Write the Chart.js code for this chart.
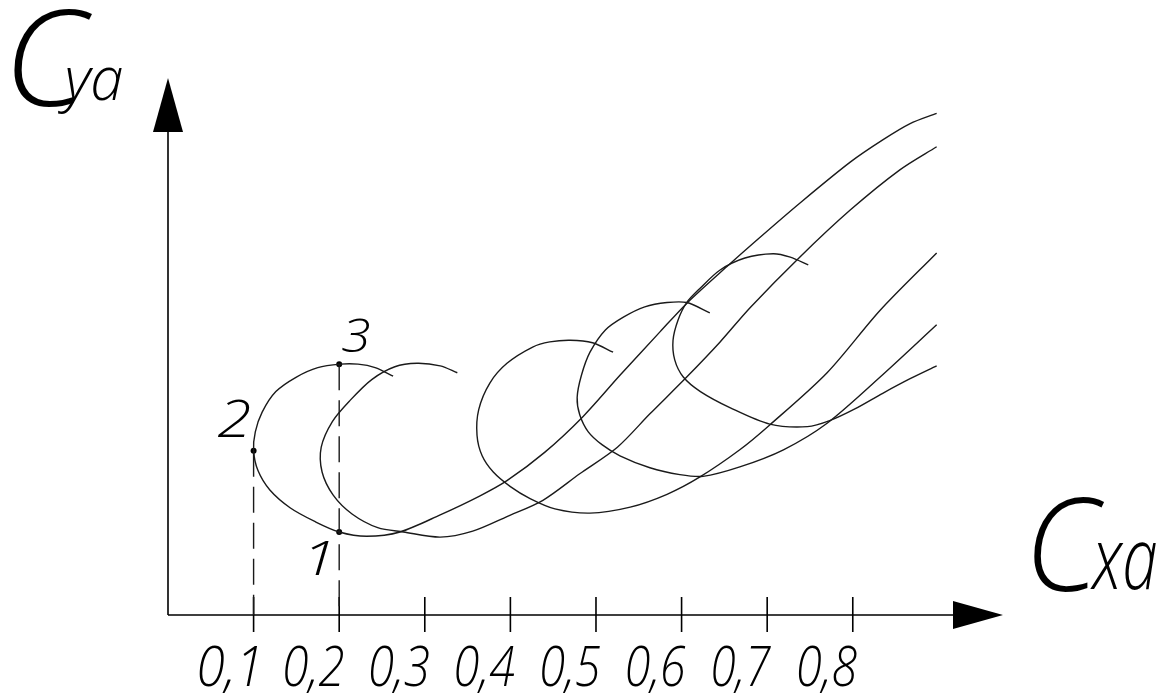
<!DOCTYPE html>
<html>
<head>
<meta charset="utf-8">
<script src="https://cdn.jsdelivr.net/npm/chart.js@4.4.1/dist/chart.umd.min.js"></script>
<style>
    html, body { margin: 0; padding: 0; background: #fff; }
    #wrap { width: 1162px; height: 699px; position: relative; }
</style>
</head>
<body>
<div id="wrap"><canvas id="polares"></canvas></div>
<script>
// Cxa / Cya values of each polar (loop first, then the rising branch)
const cxa1 = [0.263, 0.242, 0.222, 0.201, 0.175, 0.150, 0.126, 0.110, 0.102, 0.100, 0.105, 0.119, 0.143, 0.172, 0.200, 0.232, 0.271, 0.318, 0.364, 0.396, 0.440, 0.485, 0.528, 0.575, 0.606, 0.653, 0.688, 0.738, 0.797, 0.835, 0.867, 0.898];
const cya1 = [0.279, 0.289, 0.293, 0.293, 0.289, 0.278, 0.261, 0.237, 0.214, 0.192, 0.169, 0.146, 0.125, 0.109, 0.097, 0.092, 0.097, 0.117, 0.139, 0.157, 0.190, 0.232, 0.280, 0.331, 0.364, 0.407, 0.438, 0.481, 0.529, 0.555, 0.574, 0.586];

const cxa2 = [0.338, 0.318, 0.291, 0.265, 0.238, 0.213, 0.192, 0.179, 0.180, 0.193, 0.215, 0.245, 0.275, 0.318, 0.356, 0.396, 0.438, 0.481, 0.525, 0.563, 0.606, 0.645, 0.680, 0.738, 0.797, 0.855, 0.898];
const cya2 = [0.283, 0.291, 0.294, 0.290, 0.275, 0.251, 0.226, 0.196, 0.167, 0.140, 0.118, 0.102, 0.097, 0.091, 0.098, 0.115, 0.134, 0.165, 0.196, 0.235, 0.278, 0.319, 0.359, 0.418, 0.473, 0.520, 0.547];

const cxa3 = [0.520, 0.496, 0.470, 0.446, 0.426, 0.396, 0.376, 0.363, 0.361, 0.367, 0.380, 0.400, 0.423, 0.452, 0.493, 0.540, 0.583, 0.621, 0.668, 0.703, 0.770, 0.832, 0.898];
const cya3 = [0.307, 0.318, 0.321, 0.319, 0.313, 0.294, 0.271, 0.240, 0.210, 0.186, 0.167, 0.150, 0.136, 0.124, 0.119, 0.126, 0.141, 0.161, 0.193, 0.222, 0.283, 0.356, 0.423];

const cxa4 = [0.633, 0.606, 0.583, 0.557, 0.532, 0.511, 0.493, 0.483, 0.478, 0.481, 0.491, 0.507, 0.528, 0.563, 0.598, 0.625, 0.668, 0.719, 0.770, 0.832, 0.898];
const cya4 = [0.353, 0.365, 0.365, 0.360, 0.348, 0.333, 0.307, 0.280, 0.254, 0.234, 0.214, 0.199, 0.186, 0.172, 0.164, 0.162, 0.173, 0.193, 0.224, 0.278, 0.339];

const cxa5 = [0.748, 0.727, 0.707, 0.674, 0.645, 0.622, 0.606, 0.596, 0.590, 0.592, 0.602, 0.622, 0.657, 0.703, 0.747, 0.773, 0.803, 0.835, 0.867, 0.898];
const cya5 = [0.409, 0.418, 0.422, 0.417, 0.403, 0.382, 0.365, 0.345, 0.321, 0.298, 0.278, 0.261, 0.242, 0.223, 0.220, 0.227, 0.241, 0.259, 0.276, 0.291];

// marked points 1, 2, 3 on the first polar
const puntosNum = ['1', '2', '3'];
const puntosCxa = [0.200, 0.100, 0.200];
const puntosCya = [0.097, 0.192, 0.293];

// x axis ticks
const ticksCxa = [0.1, 0.2, 0.3, 0.4, 0.5, 0.6, 0.7, 0.8];
const ticksTxt = ['0,1', '0,2', '0,3', '0,4', '0,5', '0,6', '0,7', '0,8'];

const ejeXMax = 0.9755;
const ejeYMax = 0.6273;

const juntar = (xs, ys) => xs.map((v, i) => ({ x: v, y: ys[i] }));

const curva = (xs, ys) => ({
    data: juntar(xs, ys),
    showLine: true,
    tension: 0.3,
    borderColor: '#1a1a1a',
    borderWidth: 1.4,
    pointRadius: 0,
    fill: false
});

const vertical = (i) => ({
    data: [{ x: puntosCxa[i], y: puntosCya[i] }, { x: puntosCxa[i], y: 0 }],
    showLine: true,
    borderColor: '#1a1a1a',
    borderWidth: 1.4,
    borderDash: [26, 10],
    pointRadius: 0
});

const FUENTE = '"Open Sans", Lato, "DejaVu Sans", sans-serif';

// draws a string stretched so that its ink fills the box x1..x2, y1..y2
const enCaja = (ctx, s, x1, y1, x2, y2, peso) => {
    ctx.save();
    ctx.font = `italic ${peso} 100px ${FUENTE}`;
    ctx.textAlign = 'left';
    ctx.textBaseline = 'alphabetic';
    ctx.fillStyle = '#000';
    const m = ctx.measureText(s);
    const w = m.actualBoundingBoxLeft + m.actualBoundingBoxRight;
    const h = m.actualBoundingBoxAscent + m.actualBoundingBoxDescent;
    const kx = (x2 - x1) / w;
    const ky = (y2 - y1) / h;
    ctx.translate(x1 + m.actualBoundingBoxLeft * kx, y1 + m.actualBoundingBoxAscent * ky);
    ctx.scale(kx, ky);
    ctx.fillText(s, 0, 0);
    ctx.restore();
};

const ejes = {
    id: 'ejes',
    beforeDatasetsDraw(chart) {
        const { ctx, chartArea: a, scales: { x, y } } = chart;
        const x0 = x.getPixelForValue(0);
        const y0 = y.getPixelForValue(0);

        ctx.save();
        ctx.strokeStyle = '#000';
        ctx.fillStyle = '#000';
        ctx.lineWidth = 1.6;
        ctx.beginPath();
        ctx.moveTo(x0, y0);
        ctx.lineTo(x0, a.top + 54);
        ctx.moveTo(x0, y0);
        ctx.lineTo(a.right - 50, y0);
        ticksCxa.forEach(v => {
            const px = x.getPixelForValue(v);
            ctx.moveTo(px, y0 - 18);
            ctx.lineTo(px, y0 + 17);
        });
        ctx.stroke();

        // arrow heads
        ctx.beginPath();
        ctx.moveTo(x0, a.top);
        ctx.lineTo(x0 - 15, a.top + 54);
        ctx.lineTo(x0 + 15, a.top + 54);
        ctx.closePath();
        ctx.fill();
        ctx.beginPath();
        ctx.moveTo(a.right, y0);
        ctx.lineTo(a.right - 50, y0 - 14);
        ctx.lineTo(a.right - 50, y0 + 14);
        ctx.closePath();
        ctx.fill();
        ctx.restore();

        // tick labels, right edge next to the tick
        ticksCxa.forEach((v, i) => {
            const px = x.getPixelForValue(v);
            enCaja(ctx, ticksTxt[i], px - 54, y0 + 31, px + 4, y0 + 78, 300);
        });

        // axis names
        enCaja(ctx, 'C', 13, 10, 93, 107, 300);
        enCaja(ctx, 'ya', 58, 67, 122, 114, 300);
        enCaja(ctx, 'C', 1033, 498, 1105, 592, 300);
        enCaja(ctx, 'xa', 1090, 542, 1156, 590, 300);
    },
    afterDatasetsDraw(chart) {
        const { ctx, scales: { x, y } } = chart;
        // ink box of each number relative to its point
        const cajas = [[-28, 8, -10, 43], [-36, -51, -4, -14], [3, -46, 30, -12]];
        puntosNum.forEach((n, i) => {
            const px = x.getPixelForValue(puntosCxa[i]);
            const py = y.getPixelForValue(puntosCya[i]);
            const c = cajas[i];
            enCaja(ctx, n, px + c[0], py + c[1], px + c[2], py + c[3], 300);
        });
    }
};

const canvas = document.getElementById('polares');
const ctx = canvas.getContext('2d');

const graficaPolares = new Chart(ctx, {
    type: 'scatter',
    data: {
        datasets: [
            curva(cxa1, cya1),
            curva(cxa2, cya2),
            curva(cxa3, cya3),
            curva(cxa4, cya4),
            curva(cxa5, cya5),
            vertical(1),
            vertical(2),
            {
                data: juntar(puntosCxa, puntosCya),
                showLine: false,
                pointRadius: 3,
                pointBackgroundColor: '#000',
                pointBorderWidth: 0
            }
        ]
    },
    options: {
        responsive: true,
        maintainAspectRatio: false,
        animation: false,
        layout: { padding: { left: 168, right: 159, top: 78, bottom: 84 } },
        plugins: {
            legend: { display: false },
            tooltip: { enabled: false }
        },
        scales: {
            x: { type: 'linear', min: 0, max: ejeXMax, display: false },
            y: { type: 'linear', min: 0, max: ejeYMax, display: false }
        }
    },
    plugins: [ejes]
});
</script>
</body>
</html>
